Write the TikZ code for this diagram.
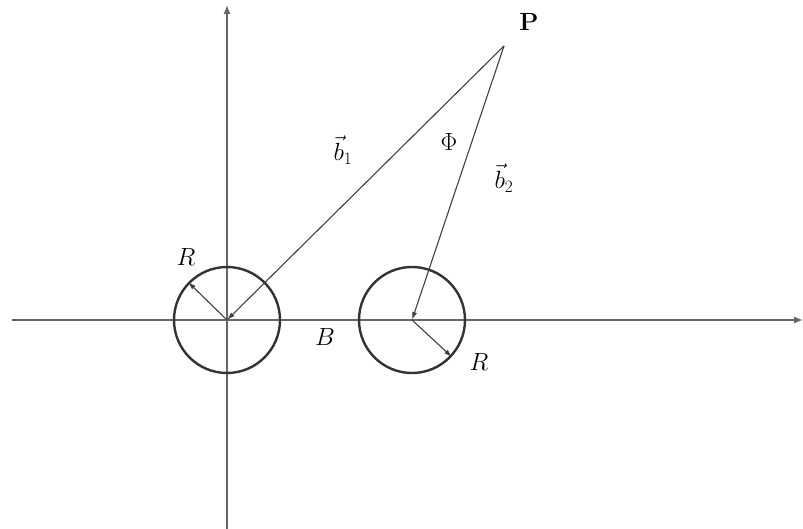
\documentclass[tikz,border=0pt]{standalone}
\usetikzlibrary{arrows.meta}
\begin{document}
\begin{tikzpicture}[x=1pt,y=-1pt,
  lbl/.style={inner sep=0pt,font=\fontsize{24}{28}\selectfont},
  axis/.style={draw=black!60,line width=1.3pt,-{Latex[length=9pt,width=7pt]}},
  circ/.style={draw=black!80,line width=2.4pt},
  vec/.style={draw=black!75,line width=1.1pt,-{Latex[length=8pt,width=5pt]}}]
\useasboundingbox[fill=white] (0,0) rectangle (803,529);
\coordinate (O) at (227,320);
\coordinate (C2) at (412,320);
\coordinate (P) at (504,46);
\coordinate (xL) at (12,320);
\coordinate (xR) at (803,320);
\coordinate (yB) at (227,529);
\coordinate (yT) at (227,5);
\coordinate (R1) at (188,282);
\coordinate (R2) at (452,357);
\draw[axis] (xL) -- (xR);
\draw[axis] (yB) -- (yT);
\draw[circ] (O) circle[radius=53pt];
\draw[circ] (C2) circle[radius=53pt];
\draw[vec] (P) -- (O);
\draw[vec] (P) -- (C2);
\draw[vec] (O) -- (R1);
\draw[vec] (C2) -- (R2);
\node[lbl] (lP) at (529,22) {$\mathbf{P}$};
\node[lbl] (lb1) at (343,150) {$\vec{b}_1$};
\node[lbl] (lphi) at (449,142) {$\Phi$};
\node[lbl] (lb2) at (504,178) {$\vec{b}_2$};
\node[lbl] (lR1) at (186,257) {$R$};
\node[lbl] (lB) at (325,337) {$B$};
\node[lbl] (lR2) at (479,362) {$R$};
\end{tikzpicture}
\end{document}
